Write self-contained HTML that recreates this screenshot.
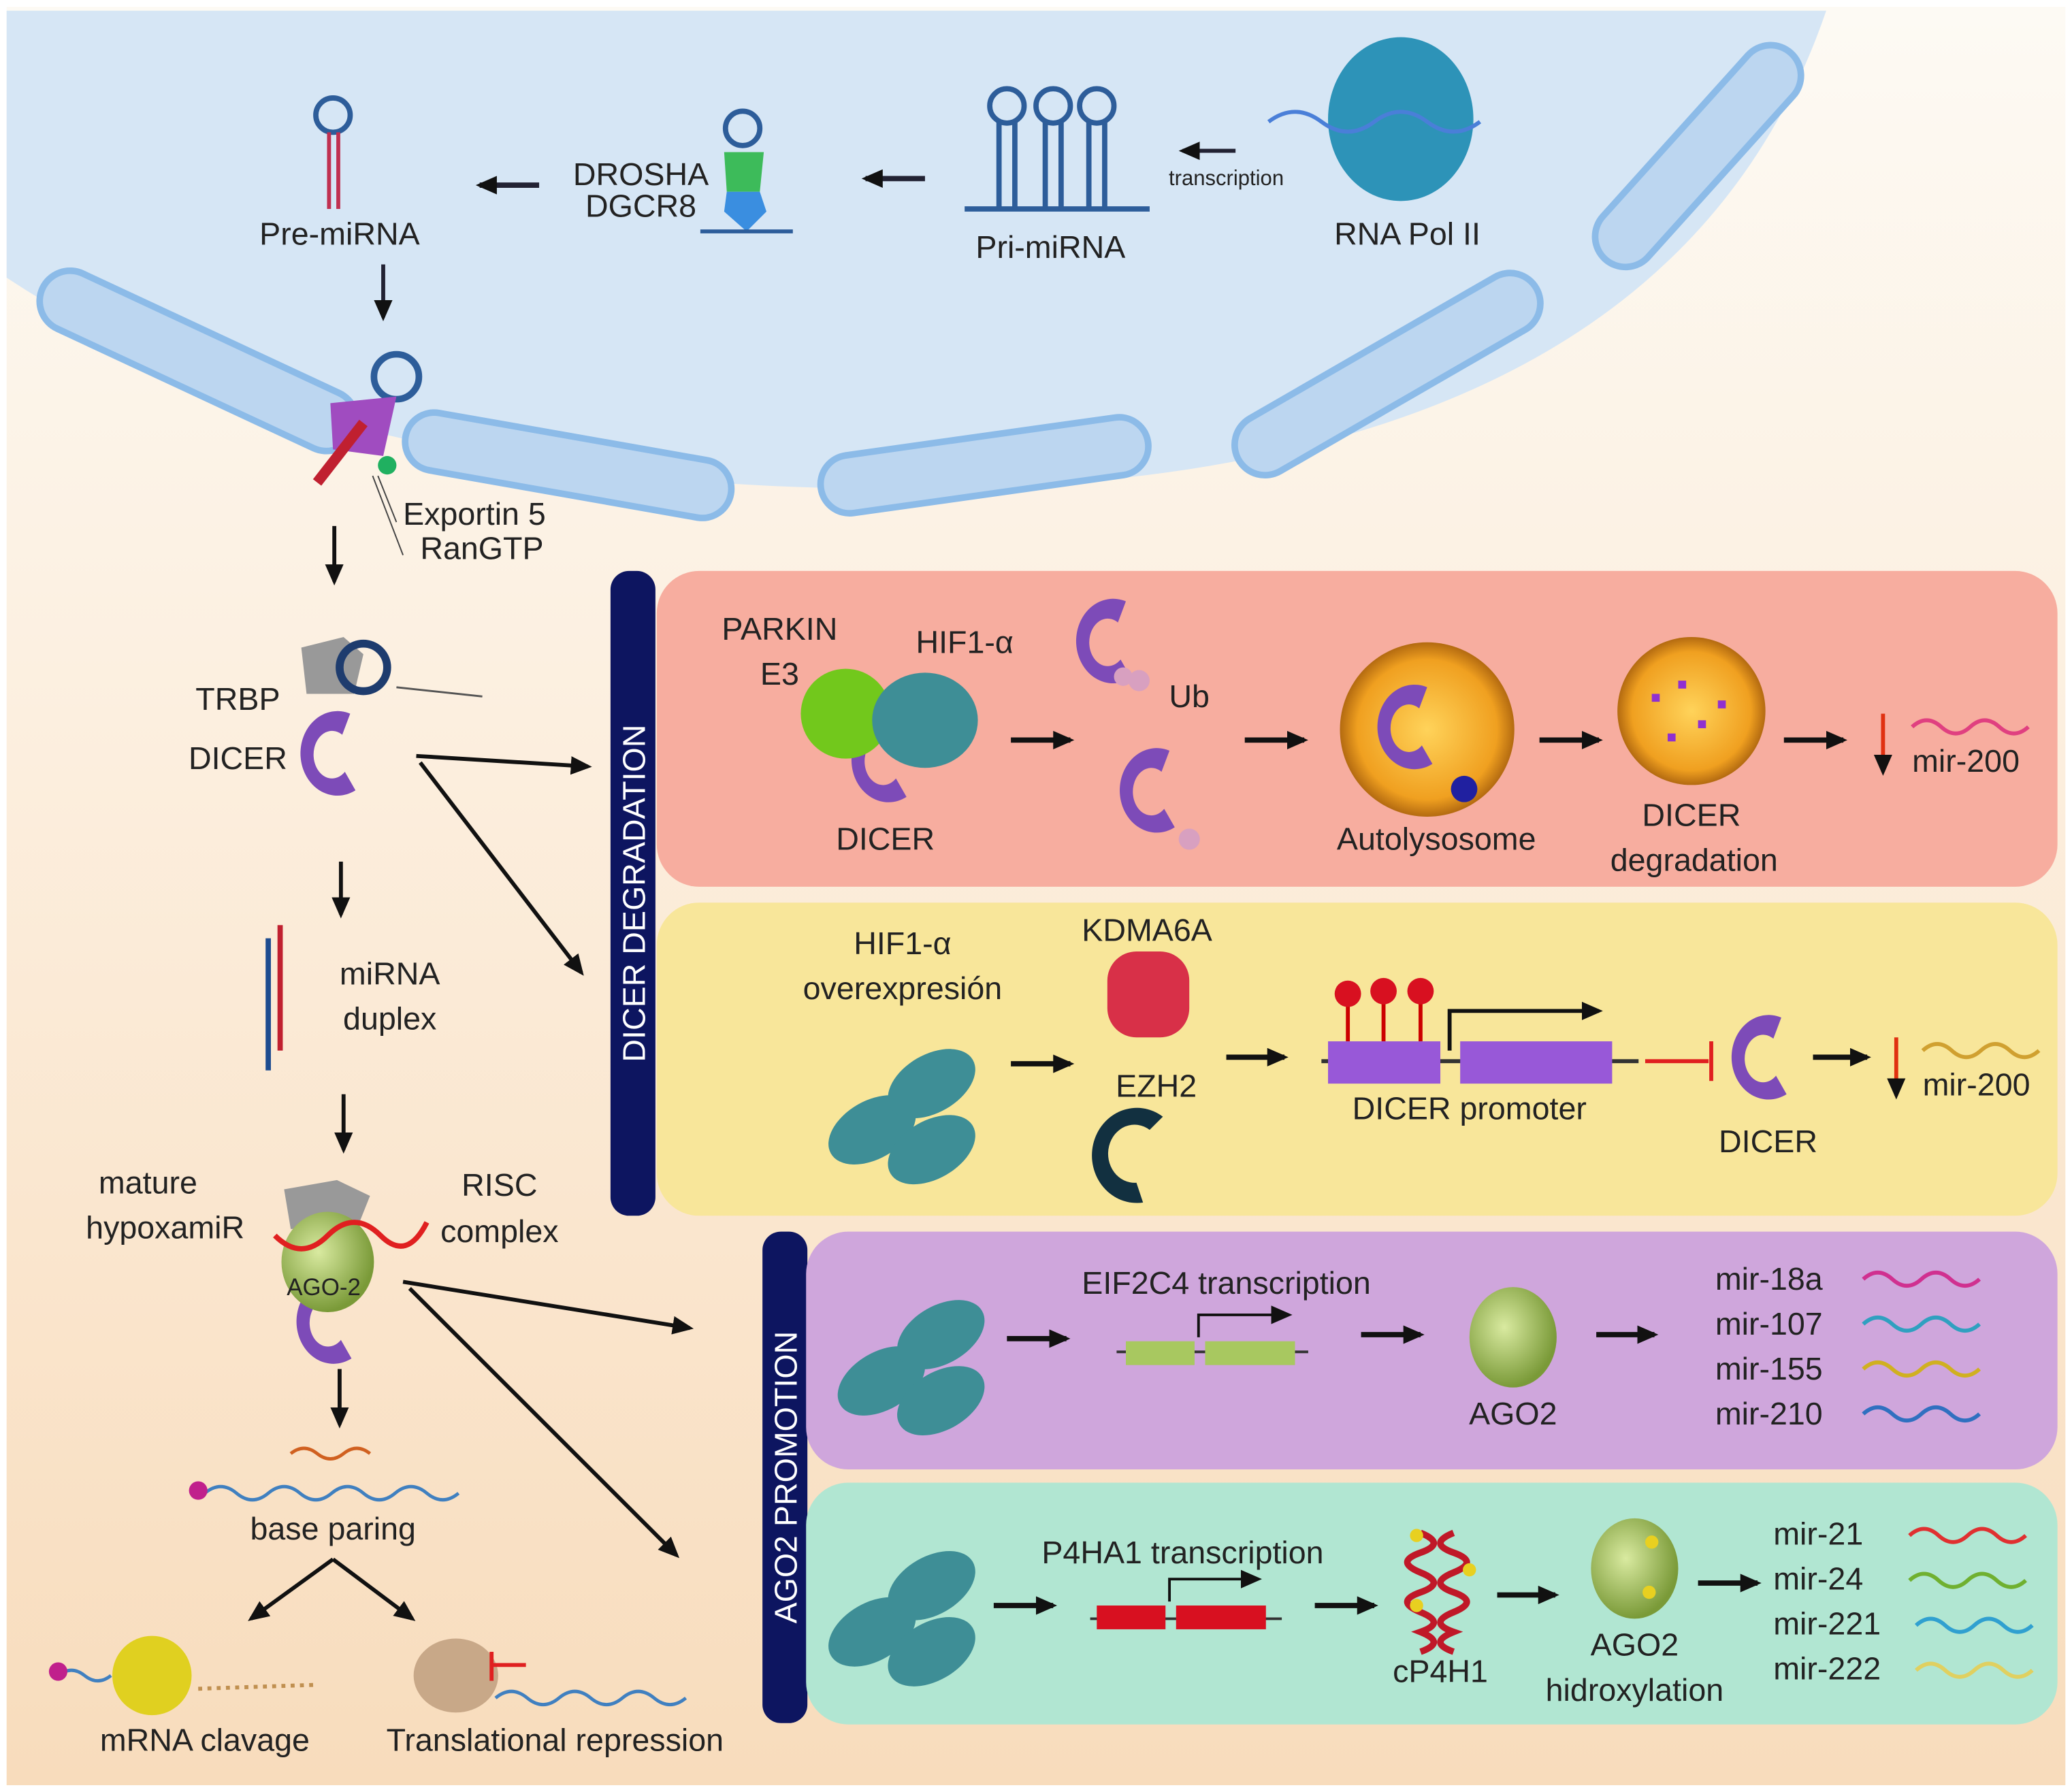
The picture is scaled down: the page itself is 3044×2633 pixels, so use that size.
<!DOCTYPE html>
<html><head><meta charset="utf-8"><style>
html,body{margin:0;padding:0;background:#fff}
svg{display:block}
text{font-family:"Liberation Sans",sans-serif;fill:#222}
</style></head><body>
<svg width="3044" height="2633" viewBox="0 0 1568 1356" xmlns="http://www.w3.org/2000/svg">
<defs>
<linearGradient id="bg" x1="0" y1="0" x2="0" y2="1">
<stop offset="0" stop-color="#fdfaf4"/><stop offset="0.4" stop-color="#fcefdf"/><stop offset="1" stop-color="#f8dcbc"/></linearGradient>
<radialGradient id="gold" cx="0.5" cy="0.5" r="0.5"><stop offset="0" stop-color="#ffd35a"/><stop offset="0.8" stop-color="#f0a020"/><stop offset="1" stop-color="#b36a10"/></radialGradient>
<radialGradient id="grn" cx="0.4" cy="0.4" r="0.6"><stop offset="0" stop-color="#d9eaa0"/><stop offset="1" stop-color="#7a9a38"/></radialGradient>
<marker id="ah" markerWidth="16" markerHeight="14" refX="13" refY="7" orient="auto" markerUnits="userSpaceOnUse"><path d="M0,0 L16,7 L0,14 Z" fill="#111"/></marker>
<g id="blob"><ellipse cx="0" cy="0" rx="36" ry="22" fill="#3e8e96" transform="rotate(-30)"/></g>
<g id="hif"><use href="#blob" x="-20" y="20"/><use href="#blob" x="25" y="-15"/><use href="#blob" x="25" y="35"/></g>
<g id="dicer"><path d="M10,-30 A28,32 0 1 0 14,28 L6,14 A14,18 0 1 1 4,-14 Z" fill="#7d4bb8"/></g>
</defs>
<rect x="5" y="5" width="1558" height="1346" fill="url(#bg)"/>
<path d="M5,8 L1382,8 Q1260,365 700,370 Q250,372 5,210 Z" fill="#d6e6f5"/>
<g fill="#bcd6f0" stroke="#8cbbe8" stroke-width="5">
<rect x="1262" y="13" width="46" height="210" rx="23" transform="rotate(42 1285 118)"/>
<rect x="20" y="250" width="260" height="46" rx="23" transform="rotate(25 150 273)"/>
<rect x="305" y="330" width="250" height="44" rx="22" transform="rotate(10 430 352)"/>
<rect x="620" y="330" width="250" height="44" rx="22" transform="rotate(-8 745 352)"/>
<rect x="920" y="260" width="260" height="46" rx="23" transform="rotate(-30 1050 283)"/>
</g>
<ellipse cx="1060" cy="90" rx="55" ry="62" fill="#2d93b8"/>
<path d="M960,92 q20,-15 40,0 t40,0 t40,0 t40,0" stroke="#4a7fd8" stroke-width="3" fill="none"/>
<text x="1065" y="185" font-size="24" text-anchor="middle">RNA Pol II</text>
<path d="M935,114 L895,114" stroke="#223" stroke-width="3" marker-end="url(#ah)"/>
<text x="928" y="140" font-size="16" text-anchor="middle">transcription</text>
<g stroke="#2d5d9a" stroke-width="4" fill="none"><circle cx="762" cy="80" r="13"/><circle cx="797" cy="80" r="13"/><circle cx="830" cy="80" r="13"/>
<path d="M756,92 V158 M768,92 V158 M791,92 V158 M803,92 V158 M824,92 V158 M836,92 V158 M730,158 H870"/></g>
<text x="795" y="195" font-size="24" text-anchor="middle">Pri-miRNA</text>
<path d="M700,135 L655,135" stroke="#223" stroke-width="4" marker-end="url(#ah)"/>
<circle cx="562" cy="97" r="13" stroke="#2d5d9a" stroke-width="4" fill="none"/>
<path d="M548,115 L578,115 L575,145 L550,145 Z" fill="#3dbb5a"/>
<path d="M550,145 L575,145 L580,160 L565,175 L548,160 Z" fill="#3a8ee0"/>
<path d="M530,175 H600" stroke="#2d5d9a" stroke-width="3"/>
<text x="485" y="140" font-size="24" text-anchor="middle">DROSHA</text>
<text x="485" y="164" font-size="24" text-anchor="middle">DGCR8</text>
<path d="M408,140 L363,140" stroke="#223" stroke-width="4" marker-end="url(#ah)"/>
<circle cx="252" cy="87" r="13" stroke="#2d5d9a" stroke-width="4" fill="none"/>
<path d="M249,100 V158 M256,100 V158" stroke="#c03050" stroke-width="3"/>
<text x="257" y="185" font-size="24" text-anchor="middle">Pre-miRNA</text>
<path d="M290,200 V240" stroke="#223" stroke-width="3" marker-end="url(#ah)"/>
<circle cx="300" cy="285" r="17" stroke="#2d5d9a" stroke-width="5" fill="none"/>
<path d="M250,305 L300,300 L290,345 L252,340 Z" fill="#a04cc0"/>
<path d="M240,365 L275,320" stroke="#c02030" stroke-width="8"/>
<circle cx="293" cy="352" r="7" fill="#20b060"/>
<text x="305" y="397" font-size="24">Exportin 5</text>
<text x="318" y="423" font-size="24">RanGTP</text>
<path d="M286,360 L300,395 M282,360 L305,420" stroke="#444" stroke-width="1" fill="none"/>
<path d="M253,398 V440" stroke="#111" stroke-width="3" marker-end="url(#ah)"/>
<path d="M228,490 L260,482 L275,495 L268,525 L232,525 Z" fill="#999"/>
<circle cx="275" cy="505" r="18" stroke="#1e3c6e" stroke-width="6" fill="none"/>
<use href="#dicer" x="255" y="570"/>
<text x="180" y="537" font-size="24" text-anchor="middle">TRBP</text>
<text x="180" y="582" font-size="24" text-anchor="middle">DICER</text>
<path d="M300,520 L365,527" stroke="#555" stroke-width="1.5"/>
<path d="M315,572 L445,580" stroke="#111" stroke-width="3" marker-end="url(#ah)"/>
<path d="M318,577 L440,736" stroke="#111" stroke-width="3" marker-end="url(#ah)"/>
<path d="M258,652 V692" stroke="#111" stroke-width="3" marker-end="url(#ah)"/>
<path d="M203,710 V810" stroke="#1d4c90" stroke-width="4"/><path d="M212,700 V795" stroke="#c02030" stroke-width="4"/>
<text x="295" y="745" font-size="24" text-anchor="middle">miRNA</text>
<text x="295" y="779" font-size="24" text-anchor="middle">duplex</text>
<path d="M260,828 V870" stroke="#111" stroke-width="3" marker-end="url(#ah)"/>
<text x="112" y="903" font-size="24" text-anchor="middle">mature</text>
<text x="125" y="937" font-size="24" text-anchor="middle">hypoxamiR</text>
<text x="378" y="905" font-size="24" text-anchor="middle">RISC</text>
<text x="378" y="940" font-size="24" text-anchor="middle">complex</text>
<path d="M215,900 L255,893 L280,905 L270,930 L220,930 Z" fill="#999"/>
<use href="#dicer" x="252" y="1000"/>
<ellipse cx="248" cy="955" rx="35" ry="38" fill="url(#grn)"/>
<path d="M208,935 q20,20 40,0 t40,0 t35,-10" stroke="#e02020" stroke-width="4" fill="none"/>
<text x="245" y="980" font-size="18" text-anchor="middle">AGO-2</text>
<path d="M305,970 L522,1005" stroke="#111" stroke-width="3" marker-end="url(#ah)"/>
<path d="M310,975 L512,1177" stroke="#111" stroke-width="3" marker-end="url(#ah)"/>
<path d="M257,1036 V1078" stroke="#111" stroke-width="3" marker-end="url(#ah)"/>
<path d="M155,1130 q12,-10 24,0 t24,0 t24,0 t24,0 t24,0 t24,0 t24,0 t24,0" stroke="#4080c0" stroke-width="2.5" fill="none"/>
<path d="M220,1100 q10,-8 20,0 t20,0 t20,0" stroke="#d06020" stroke-width="2.5" fill="none"/>
<circle cx="150" cy="1128" r="7" fill="#c0208c"/>
<text x="252" y="1165" font-size="24" text-anchor="middle">base paring</text>
<path d="M252,1180 L190,1225" stroke="#111" stroke-width="3" marker-end="url(#ah)"/>
<path d="M252,1180 L312,1225" stroke="#111" stroke-width="3" marker-end="url(#ah)"/>
<circle cx="115" cy="1268" r="30" fill="#e0d020"/>
<path d="M44,1268 q10,-8 20,0 t20,0" stroke="#4080c0" stroke-width="2.5" fill="none"/>
<circle cx="44" cy="1265" r="7" fill="#c0208c"/>
<path d="M150,1278 L240,1275" stroke="#c09050" stroke-width="3" stroke-dasharray="3 4"/>
<text x="155" y="1325" font-size="24" text-anchor="middle">mRNA clavage</text>
<ellipse cx="345" cy="1268" rx="32" ry="28" fill="#c8a888"/>
<path d="M372,1250 V1272 M372,1260 H398" stroke="#e02020" stroke-width="3"/>
<path d="M375,1285 q12,-10 24,0 t24,0 t24,0 t24,0 t24,0 t24,0" stroke="#4080c0" stroke-width="2.5" fill="none"/>
<text x="420" y="1325" font-size="24" text-anchor="middle">Translational repression</text>
<rect x="462" y="432" width="34" height="488" rx="14" fill="#0d1560"/>
<text transform="translate(488 676) rotate(-90)" font-size="24" style="fill:#fff" text-anchor="middle">DICER DEGRADATION</text>
<rect x="577" y="932" width="34" height="372" rx="14" fill="#0d1560"/>
<text transform="translate(603 1118) rotate(-90)" font-size="24" style="fill:#fff" text-anchor="middle">AGO2 PROMOTION</text>
<rect x="497" y="432" width="1060" height="239" rx="32" fill="#f7ad9f"/>
<text x="590" y="484" font-size="24" text-anchor="middle">PARKIN</text>
<text x="590" y="518" font-size="24" text-anchor="middle">E3</text>
<text x="730" y="494" font-size="24" text-anchor="middle">HIF1-α</text>
<use href="#dicer" x="672" y="575"/>
<circle cx="640" cy="540" r="34" fill="#72c81c"/>
<ellipse cx="700" cy="545" rx="40" ry="36" fill="#3e8e96"/>
<text x="670" y="643" font-size="24" text-anchor="middle">DICER</text>
<use href="#dicer" x="842" y="485"/>
<circle cx="862" cy="515" r="8" fill="#d8a0c0"/><circle cx="850" cy="512" r="7" fill="#d8a0c0"/>
<text x="900" y="535" font-size="24" text-anchor="middle">Ub</text>
<use href="#dicer" x="875" y="598"/>
<circle cx="900" cy="635" r="8" fill="#d8a0c0"/>
<path d="M765,560 L810,560" stroke="#111" stroke-width="4" marker-end="url(#ah)"/>
<path d="M942,560 L987,560" stroke="#111" stroke-width="4" marker-end="url(#ah)"/>
<circle cx="1080" cy="552" r="66" fill="url(#gold)"/>
<use href="#dicer" x="1070" y="550"/>
<circle cx="1108" cy="597" r="10" fill="#2020a0"/>
<text x="1087" y="643" font-size="24" text-anchor="middle">Autolysosome</text>
<path d="M1165,560 L1210,560" stroke="#111" stroke-width="4" marker-end="url(#ah)"/>
<circle cx="1280" cy="538" r="56" fill="url(#gold)"/>
<g fill="#9030d0"><rect x="1250" y="525" width="6" height="6"/><rect x="1270" y="515" width="6" height="6"/><rect x="1285" y="545" width="6" height="6"/><rect x="1300" y="530" width="6" height="6"/><rect x="1262" y="555" width="6" height="6"/></g>
<text x="1280" y="625" font-size="24" text-anchor="middle">DICER</text>
<text x="1282" y="659" font-size="24" text-anchor="middle">degradation</text>
<path d="M1350,560 L1395,560" stroke="#111" stroke-width="4" marker-end="url(#ah)"/>
<path d="M1425,540 V584" stroke="#e03010" stroke-width="3" marker-end="url(#ah)"/>
<path d="M1447,550 q11,-10 22,0 t22,0 t22,0 t22,0" stroke="#e04080" stroke-width="3" fill="none"/>
<text x="1447" y="584" font-size="24">mir-200</text>
<rect x="497" y="683" width="1060" height="237" rx="32" fill="#f8e69a"/>
<text x="683" y="722" font-size="24" text-anchor="middle">HIF1-α</text>
<text x="683" y="756" font-size="24" text-anchor="middle">overexpresión</text>
<use href="#hif" x="680" y="835"/>
<path d="M765,805 L810,805" stroke="#111" stroke-width="4" marker-end="url(#ah)"/>
<text x="868" y="712" font-size="24" text-anchor="middle">KDMA6A</text>
<rect x="838" y="720" width="62" height="65" rx="22" fill="#d83048"/>
<text x="875" y="830" font-size="24" text-anchor="middle">EZH2</text>
<path d="M880,845 A34,36 0 1 0 865,910 L860,895 A20,22 0 1 1 870,855 Z" fill="#123040"/>
<path d="M928,800 L972,800" stroke="#111" stroke-width="4" marker-end="url(#ah)"/>
<path d="M1000,803 H1240" stroke="#333" stroke-width="3"/>
<rect x="1005" y="788" width="85" height="32" fill="#9858d8"/><rect x="1105" y="788" width="115" height="32" fill="#9858d8"/>
<g stroke="#c00" stroke-width="3"><path d="M1020,788 V760 M1047,788 V756 M1075,788 V756"/></g>
<g fill="#d81020"><circle cx="1020" cy="752" r="10"/><circle cx="1047" cy="750" r="10"/><circle cx="1075" cy="750" r="10"/></g>
<path d="M1097,795 V765 H1210" stroke="#111" stroke-width="3" fill="none" marker-end="url(#ah)"/>
<text x="1112" y="847" font-size="24" text-anchor="middle">DICER promoter</text>
<path d="M1245,803 H1293 M1295,788 V818" stroke="#e02020" stroke-width="3"/>
<use href="#dicer" x="1338" y="800"/>
<text x="1338" y="872" font-size="24" text-anchor="middle">DICER</text>
<path d="M1372,800 L1413,800" stroke="#111" stroke-width="4" marker-end="url(#ah)"/>
<path d="M1435,785 V829" stroke="#e03010" stroke-width="3" marker-end="url(#ah)"/>
<path d="M1455,795 q11,-10 22,0 t22,0 t22,0 t22,0" stroke="#d0a030" stroke-width="3" fill="none"/>
<text x="1455" y="829" font-size="24">mir-200</text>
<rect x="610" y="932" width="947" height="180" rx="32" fill="#cfa6dc"/>
<use href="#hif" x="687" y="1025"/>
<path d="M762,1013 L807,1013" stroke="#111" stroke-width="4" marker-end="url(#ah)"/>
<text x="928" y="979" font-size="24" text-anchor="middle">EIF2C4 transcription</text>
<path d="M845,1023 H990" stroke="#333" stroke-width="2"/>
<rect x="852" y="1015" width="52" height="18" fill="#a8c860"/><rect x="912" y="1015" width="68" height="18" fill="#a8c860"/>
<path d="M907,1012 V995 H975" stroke="#111" stroke-width="2" fill="none" marker-end="url(#ah)"/>
<path d="M1030,1010 L1075,1010" stroke="#111" stroke-width="4" marker-end="url(#ah)"/>
<ellipse cx="1145" cy="1012" rx="33" ry="38" fill="url(#grn)"/>
<text x="1145" y="1078" font-size="24" text-anchor="middle">AGO2</text>
<path d="M1208,1010 L1252,1010" stroke="#111" stroke-width="4" marker-end="url(#ah)"/>
<g font-size="24"><text x="1298" y="976">mir-18a</text><text x="1298" y="1010">mir-107</text><text x="1298" y="1044">mir-155</text><text x="1298" y="1078">mir-210</text></g>
<g stroke-width="3" fill="none"><path d="M1410,968 q11,-10 22,0 t22,0 t22,0 t22,0" stroke="#d03090"/><path d="M1410,1002 q11,-10 22,0 t22,0 t22,0 t22,0" stroke="#30a0c0"/><path d="M1410,1036 q11,-10 22,0 t22,0 t22,0 t22,0" stroke="#d0b020"/><path d="M1410,1070 q11,-10 22,0 t22,0 t22,0 t22,0" stroke="#3070c0"/></g>
<rect x="610" y="1122" width="947" height="183" rx="32" fill="#b1e6d2"/>
<use href="#hif" x="680" y="1215"/>
<path d="M752,1215 L797,1215" stroke="#111" stroke-width="4" marker-end="url(#ah)"/>
<text x="895" y="1183" font-size="24" text-anchor="middle">P4HA1 transcription</text>
<path d="M825,1225 H970" stroke="#333" stroke-width="2"/>
<rect x="830" y="1215" width="52" height="18" fill="#d81020"/><rect x="890" y="1215" width="68" height="18" fill="#d81020"/>
<path d="M885,1212 V1195 H952" stroke="#111" stroke-width="2" fill="none" marker-end="url(#ah)"/>
<path d="M995,1215 L1040,1215" stroke="#111" stroke-width="4" marker-end="url(#ah)"/>
<path d="M1075,1160 q20,8 0,15 t0,15 t0,15 t0,15 t0,15 q20,8 0,15" stroke="#c01828" stroke-width="5" fill="none"/>
<path d="M1100,1160 q-20,8 0,15 t0,15 t0,15 t0,15 t0,15 q-20,8 0,15" stroke="#c01828" stroke-width="5" fill="none"/>
<circle cx="1072" cy="1162" r="5" fill="#e8d020"/><circle cx="1112" cy="1188" r="5" fill="#e8d020"/><circle cx="1072" cy="1215" r="5" fill="#e8d020"/>
<text x="1090" y="1273" font-size="24" text-anchor="middle">cP4H1</text>
<path d="M1133,1207 L1177,1207" stroke="#111" stroke-width="4" marker-end="url(#ah)"/>
<ellipse cx="1237" cy="1187" rx="33" ry="38" fill="url(#grn)"/>
<circle cx="1250" cy="1167" r="5" fill="#e8d020"/><circle cx="1248" cy="1205" r="5" fill="#e8d020"/>
<text x="1237" y="1253" font-size="24" text-anchor="middle">AGO2</text>
<text x="1237" y="1287" font-size="24" text-anchor="middle">hidroxylation</text>
<path d="M1285,1198 L1330,1198" stroke="#111" stroke-width="4" marker-end="url(#ah)"/>
<g font-size="24"><text x="1342" y="1169">mir-21</text><text x="1342" y="1203">mir-24</text><text x="1342" y="1237">mir-221</text><text x="1342" y="1271">mir-222</text></g>
<g stroke-width="3" fill="none"><path d="M1445,1162 q11,-10 22,0 t22,0 t22,0 t22,0" stroke="#e03030"/><path d="M1445,1196 q11,-10 22,0 t22,0 t22,0 t22,0" stroke="#70b030"/><path d="M1450,1230 q11,-10 22,0 t22,0 t22,0 t22,0" stroke="#30a0d0"/><path d="M1450,1264 q11,-10 22,0 t22,0 t22,0 t22,0" stroke="#e0d060"/></g>
</svg>
</body></html>
